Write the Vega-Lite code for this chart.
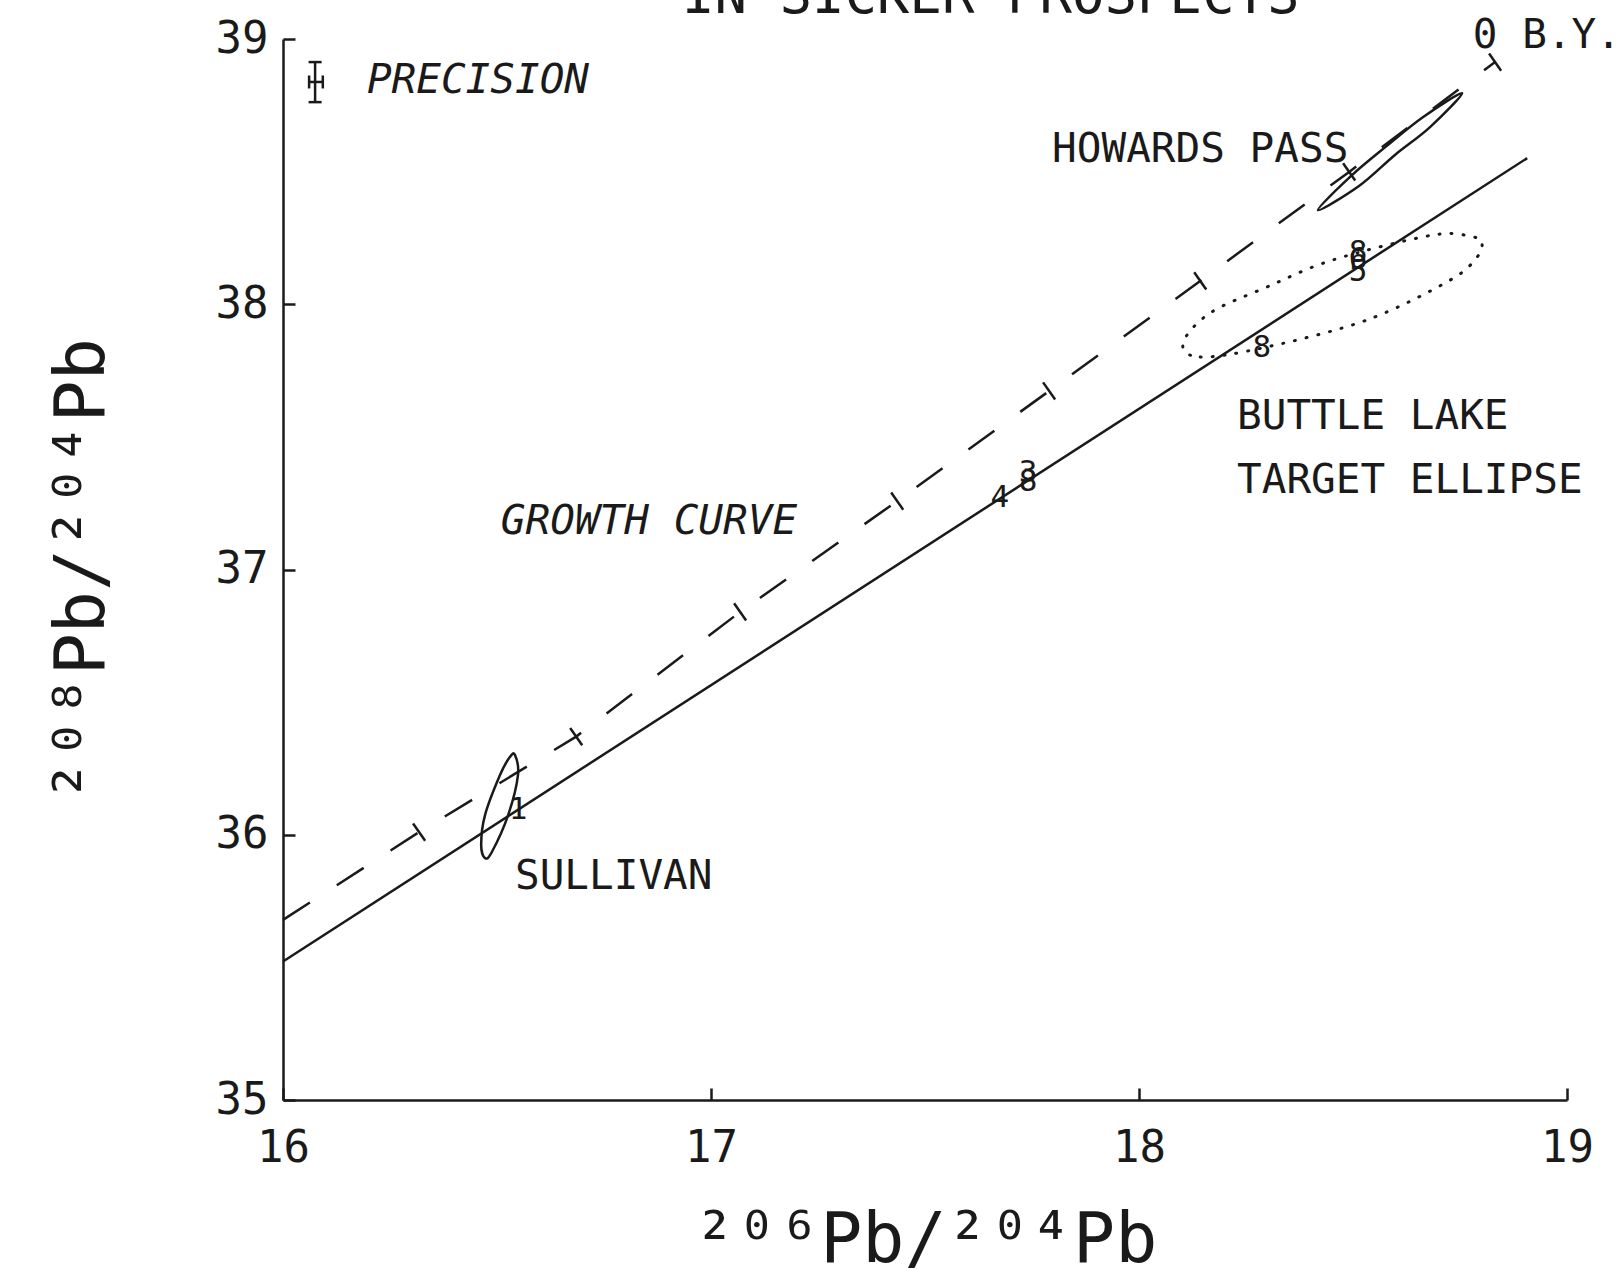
{
  "$schema": "https://vega.github.io/schema/vega-lite/v6.json",
  "width": 1284,
  "height": 1061,
  "autosize": "none",
  "padding": {"left": 283, "top": 39, "right": 54, "bottom": 170},
  "background": "white",
  "config": {"view": {"stroke": null}, "font": "DejaVu Sans Mono"},
  "datasets": {
    "solid": [{"x": 16.0, "y": 35.522}, {"x": 18.907, "y": 38.551}],
    "growth": [
      {"x": 16.0, "y": 35.679}, {"x": 16.318, "y": 36.01}, {"x": 16.685, "y": 36.37},
      {"x": 17.068, "y": 36.84}, {"x": 17.435, "y": 37.258}, {"x": 17.79, "y": 37.673},
      {"x": 18.143, "y": 38.088}, {"x": 18.491, "y": 38.499}, {"x": 18.832, "y": 38.913}
    ],
    "ticks": [
      {"x": 16.318, "y": 36.01}, {"x": 16.685, "y": 36.37}, {"x": 17.068, "y": 36.84},
      {"x": 17.435, "y": 37.258}, {"x": 17.79, "y": 37.673}, {"x": 18.143, "y": 38.088},
      {"x": 18.491, "y": 38.499}, {"x": 18.832, "y": 38.913}
    ],
    "ellipses": [
      {"name": "Sullivan", "i": 0, "x": 16.542, "y": 36.301},
      {"name": "Sullivan", "i": 1, "x": 16.549, "y": 36.225},
      {"name": "Sullivan", "i": 2, "x": 16.526, "y": 36.074},
      {"name": "Sullivan", "i": 3, "x": 16.488, "y": 35.935},
      {"name": "Sullivan", "i": 4, "x": 16.472, "y": 35.912},
      {"name": "Sullivan", "i": 5, "x": 16.463, "y": 35.961},
      {"name": "Sullivan", "i": 6, "x": 16.472, "y": 36.074},
      {"name": "Sullivan", "i": 7, "x": 16.507, "y": 36.225},
      {"name": "Sullivan", "i": 8, "x": 16.53, "y": 36.293},
      {"name": "Howards Pass", "i": 0, "x": 18.418, "y": 38.355},
      {"name": "Howards Pass", "i": 1, "x": 18.495, "y": 38.483},
      {"name": "Howards Pass", "i": 2, "x": 18.579, "y": 38.597},
      {"name": "Howards Pass", "i": 3, "x": 18.664, "y": 38.706},
      {"name": "Howards Pass", "i": 4, "x": 18.755, "y": 38.796},
      {"name": "Howards Pass", "i": 5, "x": 18.68, "y": 38.668},
      {"name": "Howards Pass", "i": 6, "x": 18.598, "y": 38.563},
      {"name": "Howards Pass", "i": 7, "x": 18.514, "y": 38.446}
    ],
    "buttle": [
      {"i": 0, "x": 18.103, "y": 37.854}, {"i": 1, "x": 18.143, "y": 37.801},
      {"i": 2, "x": 18.299, "y": 37.839}, {"i": 3, "x": 18.533, "y": 37.941},
      {"i": 4, "x": 18.727, "y": 38.091}, {"i": 5, "x": 18.79, "y": 38.178},
      {"i": 6, "x": 18.801, "y": 38.231}, {"i": 7, "x": 18.78, "y": 38.254},
      {"i": 8, "x": 18.687, "y": 38.261}, {"i": 9, "x": 18.453, "y": 38.167},
      {"i": 10, "x": 18.299, "y": 38.065}, {"i": 11, "x": 18.166, "y": 37.967}
    ],
    "precisionBars": [
      {"x": 16.075, "x2": 16.075, "y": 38.762, "y2": 38.913},
      {"x": 16.061, "x2": 16.093, "y": 38.838, "y2": 38.838}
    ],
    "precisionCaps": [
      {"x": 16.075, "y": 38.913, "cap": "h"}, {"x": 16.075, "y": 38.762, "cap": "h"},
      {"x": 16.061, "y": 38.838, "cap": "v"}, {"x": 16.093, "y": 38.838, "cap": "v"}
    ],
    "labels": [
      {"x": 17.797, "y": 38.582, "text": "HOWARDS PASS"},
      {"x": 18.78, "y": 39.011, "text": "0 B.Y."},
      {"x": 18.229, "y": 37.575, "text": "BUTTLE LAKE"},
      {"x": 18.229, "y": 37.334, "text": "TARGET ELLIPSE"},
      {"x": 16.542, "y": 35.841, "text": "SULLIVAN"}
    ],
    "italicLabels": [
      {"x": 16.196, "y": 38.842, "text": "PRECISION"},
      {"x": 16.509, "y": 37.179, "text": "GROWTH CURVE"}
    ],
    "numerals": [
      {"x": 16.549, "y": 36.093, "text": "1"},
      {"x": 17.675, "y": 37.27, "text": "4"},
      {"x": 17.741, "y": 37.33, "text": "8"},
      {"x": 17.741, "y": 37.364, "text": "3"},
      {"x": 18.512, "y": 38.193, "text": "8"},
      {"x": 18.512, "y": 38.167, "text": "6"},
      {"x": 18.512, "y": 38.122, "text": "5"},
      {"x": 18.287, "y": 37.835, "text": "8"}
    ],
    "title": [{"x": 16.932, "y": 39.098, "text": "IN SICKER PROSPECTS"}]
  },
  "layer": [
    {
      "data": {"name": "solid"},
      "mark": {"type": "line", "color": "#1a1a1a", "strokeWidth": 2.5},
      "encoding": {
        "x": {
          "field": "x", "type": "quantitative",
          "scale": {"domain": [16, 19], "nice": false, "zero": false},
          "axis": {
            "title": "²⁰⁶Pb/²⁰⁴Pb", "values": [16, 17, 18, 19], "format": "d", "grid": false,
            "domainColor": "#1a1a1a", "domainWidth": 2.5, "tickColor": "#1a1a1a", "tickWidth": 2.5,
            "tickSize": -12, "labelFont": "DejaVu Sans Mono", "labelFontSize": 44, "labelColor": "#1a1a1a",
            "labelPadding": 38, "labelFlush": false, "labelOverlap": false,
            "titleFont": "DejaVu Sans Mono", "titleFontSize": 70, "titleFontWeight": "normal",
            "titleColor": "#1a1a1a", "titleBaseline": "alphabetic", "titleY": 161
          }
        },
        "y": {
          "field": "y", "type": "quantitative",
          "scale": {"domain": [35, 39], "nice": false, "zero": false},
          "axis": {
            "title": "²⁰⁸Pb/²⁰⁴Pb", "values": [35, 36, 37, 38, 39], "format": "d", "grid": false,
            "domainColor": "#1a1a1a", "domainWidth": 2.5, "tickColor": "#1a1a1a", "tickWidth": 2.5,
            "tickSize": -12, "labelFont": "DejaVu Sans Mono", "labelFontSize": 44, "labelColor": "#1a1a1a",
            "labelPadding": 27, "labelFlush": false, "labelOverlap": false,
            "titleFont": "DejaVu Sans Mono", "titleFontSize": 70, "titleFontWeight": "normal",
            "titleColor": "#1a1a1a", "titleBaseline": "alphabetic", "titleX": -180
          }
        }
      }
    },
    {
      "data": {"name": "growth"},
      "mark": {"type": "line", "color": "#1a1a1a", "strokeWidth": 2.5, "strokeDash": [32, 32]},
      "encoding": {"x": {"field": "x", "type": "quantitative"}, "y": {"field": "y", "type": "quantitative"}}
    },
    {
      "data": {"name": "ticks"},
      "mark": {"type": "point", "shape": "M0,-1L0,1", "size": 441, "angle": -35, "filled": false, "stroke": "#1a1a1a", "strokeWidth": 2.5, "opacity": 1},
      "encoding": {"x": {"field": "x", "type": "quantitative"}, "y": {"field": "y", "type": "quantitative"}}
    },
    {
      "data": {"name": "ellipses"},
      "mark": {"type": "line", "color": "#1a1a1a", "strokeWidth": 2.5, "interpolate": "cardinal-closed"},
      "encoding": {
        "x": {"field": "x", "type": "quantitative"},
        "y": {"field": "y", "type": "quantitative"},
        "detail": {"field": "name"},
        "order": {"field": "i", "type": "quantitative"}
      }
    },
    {
      "data": {"name": "buttle"},
      "mark": {"type": "line", "color": "#1a1a1a", "strokeWidth": 3, "strokeDash": [1, 11], "strokeCap": "round", "interpolate": "cardinal-closed"},
      "encoding": {
        "x": {"field": "x", "type": "quantitative"},
        "y": {"field": "y", "type": "quantitative"},
        "order": {"field": "i", "type": "quantitative"}
      }
    },
    {
      "data": {"name": "precisionBars"},
      "mark": {"type": "rule", "color": "#1a1a1a", "strokeWidth": 2.5},
      "encoding": {
        "x": {"field": "x", "type": "quantitative"}, "x2": {"field": "x2"},
        "y": {"field": "y", "type": "quantitative"}, "y2": {"field": "y2"}
      }
    },
    {
      "data": {"name": "precisionCaps"},
      "mark": {"type": "point", "size": 169, "filled": false, "stroke": "#1a1a1a", "strokeWidth": 2.5, "opacity": 1},
      "encoding": {
        "x": {"field": "x", "type": "quantitative"},
        "y": {"field": "y", "type": "quantitative"},
        "shape": {"field": "cap", "type": "nominal", "scale": {"domain": ["h", "v"], "range": ["M-1,0L1,0", "M0,-1L0,1"]}, "legend": null}
      }
    },
    {
      "data": {"name": "labels"},
      "mark": {"type": "text", "align": "left", "baseline": "middle", "font": "DejaVu Sans Mono", "fontSize": 41, "color": "#1a1a1a"},
      "encoding": {"x": {"field": "x", "type": "quantitative"}, "y": {"field": "y", "type": "quantitative"}, "text": {"field": "text"}}
    },
    {
      "data": {"name": "italicLabels"},
      "mark": {"type": "text", "align": "left", "baseline": "middle", "font": "DejaVu Sans Mono", "fontStyle": "italic", "fontSize": 41, "color": "#1a1a1a"},
      "encoding": {"x": {"field": "x", "type": "quantitative"}, "y": {"field": "y", "type": "quantitative"}, "text": {"field": "text"}}
    },
    {
      "data": {"name": "numerals"},
      "mark": {"type": "text", "align": "center", "baseline": "middle", "font": "DejaVu Sans Mono", "fontSize": 31, "color": "#1a1a1a"},
      "encoding": {"x": {"field": "x", "type": "quantitative"}, "y": {"field": "y", "type": "quantitative"}, "text": {"field": "text"}}
    },
    {
      "data": {"name": "title"},
      "mark": {"type": "text", "align": "left", "baseline": "alphabetic", "font": "DejaVu Sans Mono", "fontSize": 54, "color": "#1a1a1a"},
      "encoding": {"x": {"field": "x", "type": "quantitative"}, "y": {"field": "y", "type": "quantitative"}, "text": {"field": "text"}}
    }
  ]
}
